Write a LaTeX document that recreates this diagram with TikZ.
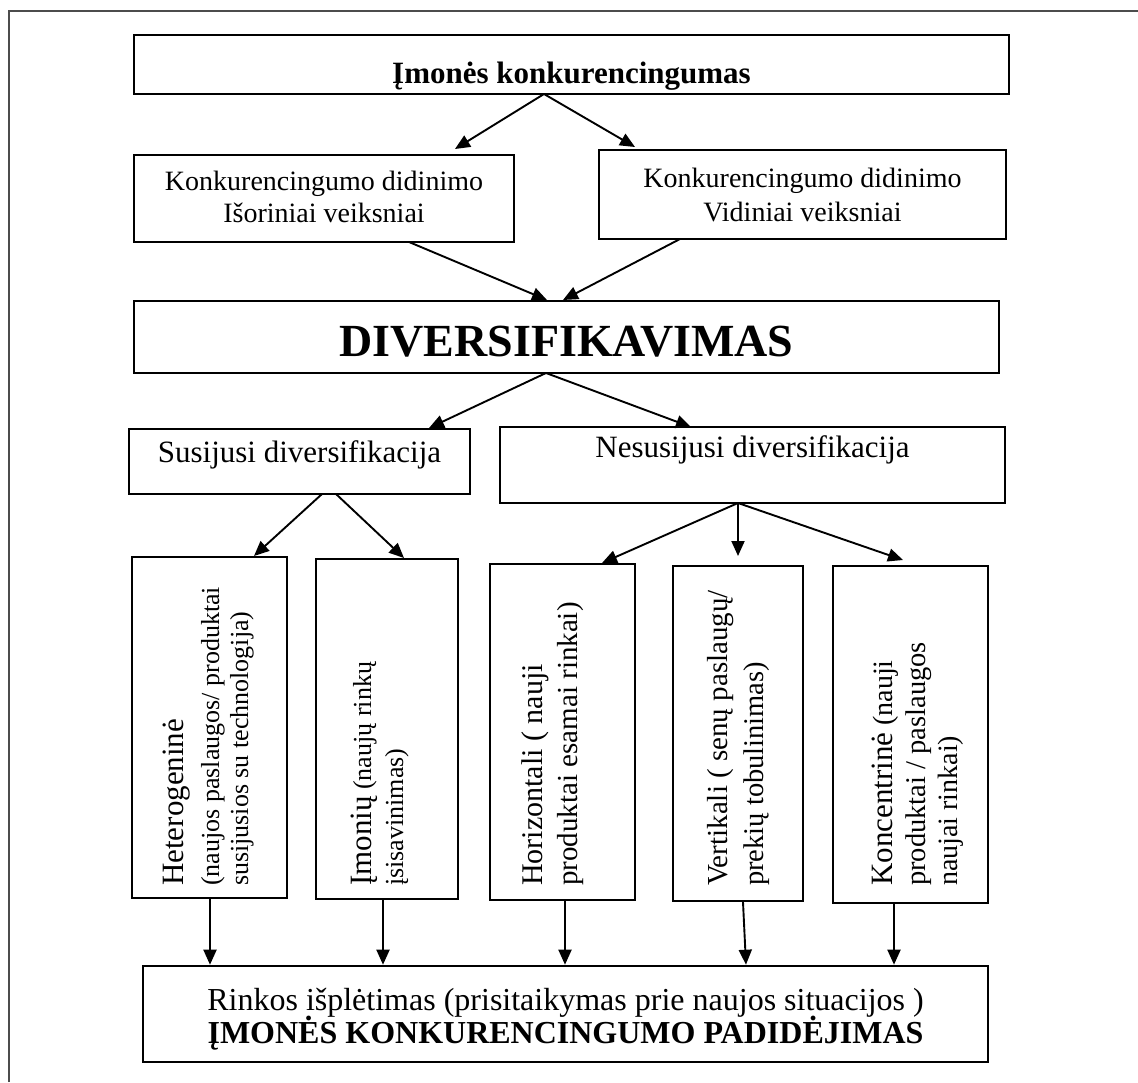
\documentclass[tikz,border=0pt]{standalone}
\usepackage{fontspec}
\setmainfont{Liberation Serif}
\usetikzlibrary{arrows.meta,calc}
\newcommand{\fsz}[1]{\fontsize{#1}{#1}\selectfont}
\begin{document}
\begin{tikzpicture}[x=1pt,y=-1pt,
  box/.style={draw=black, line width=2.6pt, rectangle, inner sep=0pt},
  vbox/.style={draw=black, line width=2.2pt, rectangle, inner sep=0pt},
  txt/.style={anchor=base, inner sep=0pt},
  vtxt/.style={rotate=90, anchor=base west, inner sep=0pt},
  flow/.style={line width=1.9pt, -{Triangle[length=15pt,width=13pt]}}]
\useasboundingbox (0,0) rectangle (1138,1082);
% page frame
\draw[line width=2pt, draw=black!70] (9,1082) -- (9,11) -- (1138,11);

% boxes
\node (top) [box, minimum width=875pt, minimum height=59pt] at (571.5,64.5) {};
\node (ext) [box, minimum width=380pt, minimum height=87pt] at (324,198.5) {};
\node (int) [box, minimum width=407pt, minimum height=89pt] at (802.5,194.5) {};
\node (div) [box, minimum width=865pt, minimum height=72pt] at (566.5,337) {};
\node (sus) [box, minimum width=341pt, minimum height=65pt] at (299.5,461.5) {};
\node (nes) [box, minimum width=505pt, minimum height=76pt] at (752.5,465) {};
\node (het) [vbox, minimum width=155pt, minimum height=341pt] at (209.5,727.5) {};
\node (imo) [vbox, minimum width=142pt, minimum height=340pt] at (387,729) {};
\node (hor) [vbox, minimum width=145pt, minimum height=336pt] at (562.5,732) {};
\node (ver) [vbox, minimum width=130pt, minimum height=335pt] at (738,733.5) {};
\node (kon) [vbox, minimum width=155pt, minimum height=337pt] at (910.5,734.5) {};
\node (res) [box, minimum width=845pt, minimum height=96pt] at (565.5,1014) {};

% texts
\node (toptext) [txt, font=\bfseries\fsz{31}] at (571.5,83) {Įmonės konkurencingumas};
\node (ext1) [txt, font=\fsz{28}] at (324,190) {Konkurencingumo didinimo};
\node (ext2) [txt, font=\fsz{28}] at (324,222) {Išoriniai veiksniai};
\node (int1) [txt, font=\fsz{28}] at (802.5,187) {Konkurencingumo didinimo};
\node (int2) [txt, font=\fsz{28}] at (802.5,221) {Vidiniai veiksniai};
\node (divtext) [txt, font=\bfseries\fsz{46}] at (566.5,356) {DIVERSIFIKAVIMAS};
\node (sustext) [txt, font=\fsz{31}] at (299.5,462) {Susijusi diversifikacija};
\node (nestext) [txt, font=\fsz{31}] at (752.5,457) {Nesusijusi diversifikacija};

\node (het1) [vtxt, font=\fsz{31}] at (183,886) {Heterogeninė};
\node (het2) [vtxt, font=\fsz{26}] at (219,886) {(naujos paslaugos/ produktai};
\node (het3) [vtxt, font=\fsz{26}] at (248,886) {susijusios su technologija)};
\node (imo1) [vtxt, font=\fsz{26}] at (371,886) {{\fsz{31}Įmonių} (naujų rinkų};
\node (imo2) [vtxt, font=\fsz{26}] at (403,886) {įsisavinimas)};
\node (hor1) [vtxt, font=\fsz{30}] at (542,886) {Horizontali ( nauji};
\node (hor2) [vtxt, font=\fsz{29}] at (577,886) {produktai esamai rinkai)};
\node (ver1) [vtxt, font=\fsz{29}] at (727,886) {Vertikali ( senų paslaugų/};
\node (ver2) [vtxt, font=\fsz{28.5}] at (763,886) {prekių tobulinimas)};
\node (kon1) [vtxt, font=\fsz{28}] at (892,886) {{\fsz{31}Koncentrinė} (nauji};
\node (kon2) [vtxt, font=\fsz{28.5}] at (925,886) {produktai / paslaugos};
\node (kon3) [vtxt, font=\fsz{28}] at (957,886) {naujai rinkai)};

\node (res1) [txt, font=\fsz{32}] at (565.5,1010) {Rinkos išplėtimas (prisitaikymas prie naujos situacijos )};
\node (res2) [txt, font=\bfseries\fsz{32}] at (565.5,1043) {ĮMONĖS KONKURENCINGUMO PADIDĖJIMAS};

% connector end points
\coordinate (topO) at (544,94);
\coordinate (extT) at (455,149);
\coordinate (intT) at (635,147);
\coordinate (extO) at (409,242);
\coordinate (intO) at (680,239);
\coordinate (divL) at (547,300);
\coordinate (divR) at (563,300);
\coordinate (divO) at (546,373);
\coordinate (susT) at (429,428);
\coordinate (nesT) at (691,427);
\coordinate (susO1) at (322,494);
\coordinate (susO2) at (336,494);
\coordinate (hetT) at (254,556);
\coordinate (imoT) at (404,558);
\coordinate (nesO) at (738,503);
\coordinate (horT) at (602,563);
\coordinate (verT) at (738,556);
\coordinate (konT) at (903,560);

\draw[flow] (topO) -- (extT);
\draw[flow] (topO) -- (intT);
\draw[flow] (extO) -- (divL);
\draw[flow] (intO) -- (divR);
\draw[flow] (divO) -- (susT);
\draw[flow] (divO) -- (nesT);
\draw[flow] (susO1) -- (hetT);
\draw[flow] (susO2) -- (imoT);
\draw[flow] (nesO) -- (horT);
\draw[flow] (nesO) -- (verT);
\draw[flow] (nesO) -- (konT);

\draw[flow] (het.south -| 210,0) -- (res.north -| 210,0);
\draw[flow] (imo.south -| 383,0) -- (res.north -| 383,0);
\draw[flow] (hor.south -| 565,0) -- (res.north -| 565,0);
\draw[flow] (ver.south -| 743,0) -- (res.north -| 746,0);
\draw[flow] (kon.south -| 894,0) -- (res.north -| 894,0);
\end{tikzpicture}
\end{document}
